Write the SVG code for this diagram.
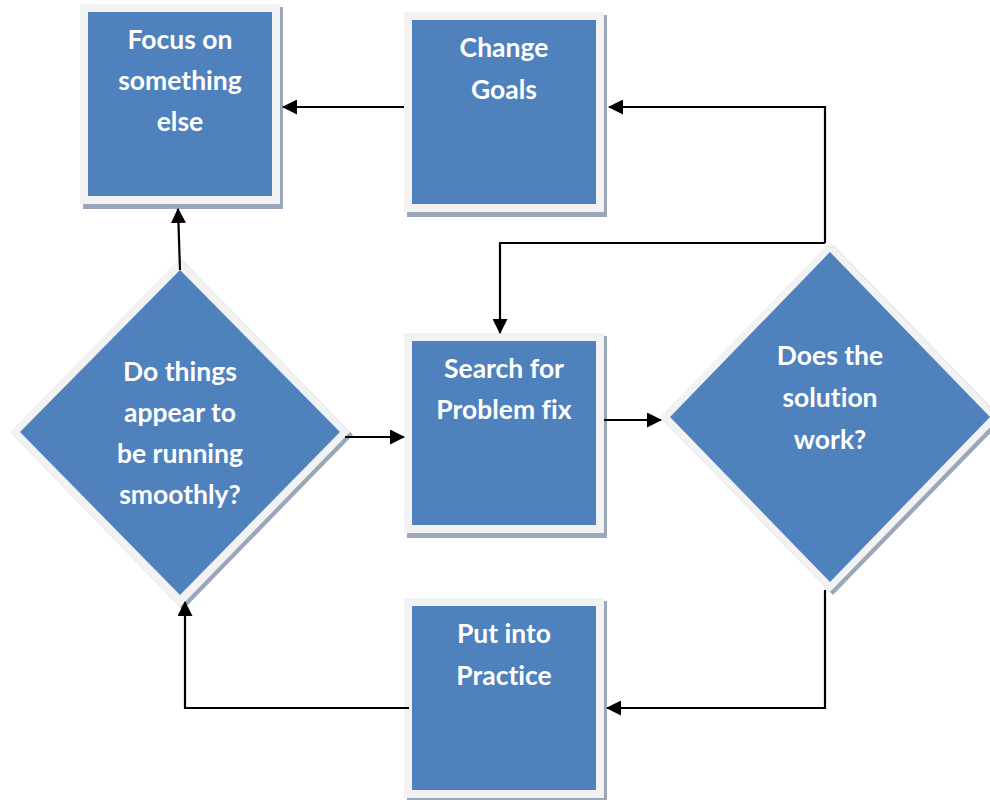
<svg xmlns="http://www.w3.org/2000/svg" width="990" height="800" viewBox="0 0 990 800">
<style>
.sh{fill:#9aa7b8}
.bd{fill:#f2f2f2}
.bl{fill:#4f81bd}
.t{font-family:Lato,"Open Sans","Liberation Sans",sans-serif;font-weight:bold;font-size:26.5px;fill:#ffffff;text-anchor:middle;font-variant-ligatures:none}
.c{fill:none;stroke:#000;stroke-width:2.2}
</style>
<defs>
<marker id="ahb" markerWidth="15" markerHeight="15" refX="14" refY="7.5" orient="auto" markerUnits="userSpaceOnUse" viewBox="0 0 15 15">
<path d="M0,0 L15,7.5 L0,15 z" fill="#000"/>
</marker>
</defs>
<rect width="990" height="800" fill="#fff"/>
<g id="focus">
<rect class="sh" x="83" y="7" width="200" height="202"/>
<rect class="bd" x="80" y="4" width="200" height="200"/>
<rect class="bl" x="88" y="12" width="184" height="184"/>
<text class="t" x="180" y="49">Focus on</text>
<text class="t" x="180" y="90">something</text>
<text class="t" x="180" y="131">else</text>
</g>
<g id="change">
<rect class="sh" x="407" y="15" width="200" height="202"/>
<rect class="bd" x="404" y="12" width="200" height="200"/>
<rect class="bl" x="412" y="20" width="184" height="184"/>
<text class="t" x="504" y="57">Change</text>
<text class="t" x="504" y="99">Goals</text>
</g>
<g id="search">
<rect class="sh" x="407" y="336" width="200" height="202"/>
<rect class="bd" x="404" y="333" width="200" height="200"/>
<rect class="bl" x="412" y="341" width="184" height="184"/>
<text class="t" x="504" y="378">Search for</text>
<text class="t" x="504" y="419">Problem fix</text>
</g>
<g id="practice">
<rect class="sh" x="407" y="601" width="200" height="202"/>
<rect class="bd" x="404" y="598" width="200" height="200"/>
<rect class="bl" x="412" y="606" width="184" height="184"/>
<text class="t" x="504" y="643">Put into</text>
<text class="t" x="504" y="685">Practice</text>
</g>
<g id="smooth">
<polygon class="sh" points="183,261 353,435 183,610 13,435"/>
<polygon class="bd" points="180,258 350,432 180,607 10,432"/>
<polygon class="bl" points="180,270 340,432 180,595 20,432"/>
<text class="t" x="180" y="381">Do things</text>
<text class="t" x="180" y="422">appear to</text>
<text class="t" x="180" y="463">be running</text>
<text class="t" x="180" y="504">smoothly?</text>
</g>
<g id="works">
<polygon class="sh" points="833,245 1003,420 833,595 663,420"/>
<polygon class="bd" points="830,242 1000,417 830,592 660,417"/>
<polygon class="bl" points="830,252 990,417 830,582 670,417"/>
<text class="t" x="830" y="365">Does the</text>
<text class="t" x="830" y="407">solution</text>
<text class="t" x="830" y="449">work?</text>
</g>
<g id="connectors">
<path class="c" d="M404,107 H283" marker-end="url(#ahb)"/>
<path class="c" d="M825,243 V107 H609" marker-end="url(#ahb)"/>
<path class="c" d="M825,243 H500 V333" marker-end="url(#ahb)"/>
<path class="c" d="M180,270 L178,209" marker-end="url(#ahb)"/>
<path class="c" d="M345,437 H404" marker-end="url(#ahb)"/>
<path class="c" d="M604,420 H661" marker-end="url(#ahb)"/>
<path class="c" d="M825,590 V708 H607" marker-end="url(#ahb)"/>
<path class="c" d="M409,708 H185 V602" marker-end="url(#ahb)"/>
</g>
</svg>
